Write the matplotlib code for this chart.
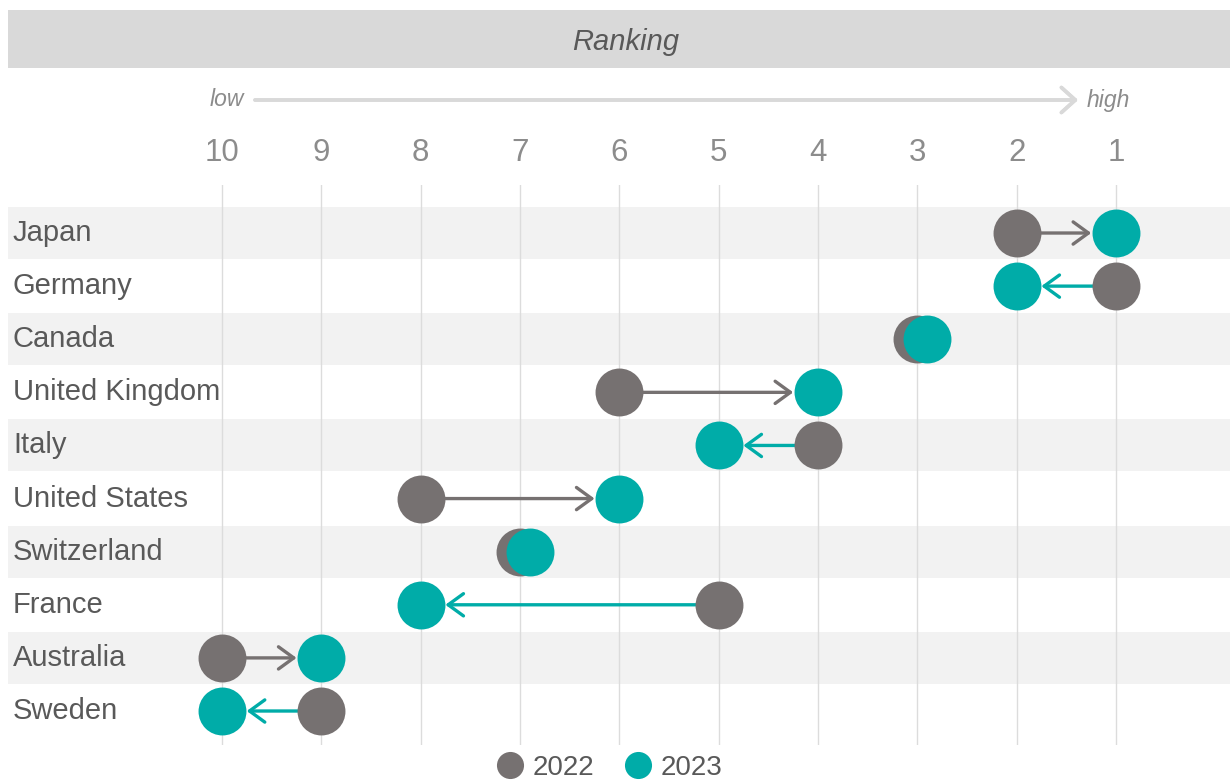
import matplotlib.pyplot as plt
from matplotlib.patches import Rectangle
from matplotlib.lines import Line2D
import matplotlib.transforms as mtrans

# data
countries = ['Japan', 'Germany', 'Canada', 'United Kingdom', 'Italy',
             'United States', 'Switzerland', 'France', 'Australia', 'Sweden']
rank_2022 = [2, 1, 3, 6, 4, 8, 7, 5, 10, 9]
rank_2023 = [1, 2, 3, 4, 5, 6, 7, 8, 9, 10]
ranks = [10, 9, 8, 7, 6, 5, 4, 3, 2, 1]

grey = '#767171'
teal = '#00aca8'
txt = '#595959'
light = '#8c8c8c'
tie_shift = 0.1   # visual offset so both dots show when rank unchanged

W, H = 1230, 781
fig = plt.figure(figsize=(W / 100, H / 100), dpi=100)
plt.rcParams['font.family'] = ['Liberation Sans', 'DejaVu Sans']

# main axes (pixel layout -> figure fraction)
ax_top, ax_bot = 185, 745
ax = fig.add_axes([8 / W, 1 - ax_bot / H, (W - 8) / W, (ax_bot - ax_top) / H])
ax.set_xlim(12.154, -0.148)
ax.set_ylim(9.64, -0.904)
for s in ax.spines.values():
    s.set_visible(False)
ax.set_yticks([])

# alternating row bands
for i in range(len(countries)):
    if i % 2 == 0:
        ax.axhspan(i - 0.49, i + 0.49, color='#f2f2f2', zorder=0, lw=0)

# vertical grid
for r in ranks:
    ax.axvline(r, color='#dcdcdc', lw=1, zorder=1)

ax.set_xticks(ranks)
ax.set_xticklabels([str(r) for r in ranks])
ax.xaxis.tick_top()
ax.tick_params(axis='x', length=0, pad=12, labelsize=22.5, labelcolor=light)

# country labels
trans = mtrans.blended_transform_factory(ax.transAxes, ax.transData)
for i, c in enumerate(countries):
    ax.text(0.004, i, c, transform=trans, ha='left', va='center',
            fontsize=21, color=txt, zorder=6)

# arrows and dots
x22, x23 = [], []
for i in range(len(countries)):
    a, b = rank_2022[i], rank_2023[i]
    if a == b:
        x22.append(a)
        x23.append(b - tie_shift)
        continue
    x22.append(a)
    x23.append(b)
    col = grey if b < a else teal
    ax.annotate('', xy=(b, i), xytext=(a, i),
                arrowprops=dict(arrowstyle='->,head_length=0.55,head_width=0.4',
                                color=col, lw=2.4, shrinkA=0, shrinkB=17.8,
                                mutation_scale=20),
                zorder=3)

ypos = list(range(len(countries)))
ax.scatter(x22, ypos, s=1190, color=grey, zorder=4, lw=0)
ax.scatter(x23, ypos, s=1190, color=teal, zorder=5, lw=0)

# header band
fig.patches.append(Rectangle((8 / W, 1 - 68 / H), (W - 8) / W, 58 / H,
                             transform=fig.transFigure, color='#d9d9d9', lw=0))
fig.text(626 / W, 1 - 42 / H, 'Ranking', ha='center', va='center',
         fontsize=21, style='italic', color=txt)

# low -> high arrow
fig.text(244 / W, 1 - 100 / H, 'low', ha='right', va='center',
         fontsize=16.5, style='italic', color=light)
fig.text(1087 / W, 1 - 100 / H, 'high', ha='left', va='center',
         fontsize=16.5, style='italic', color=light)
fig.add_artist(plt.annotate('', xy=(1078 / W, 1 - 100 / H), xytext=(255 / W, 1 - 100 / H),
                            xycoords='figure fraction', textcoords='figure fraction',
                            arrowprops=dict(arrowstyle='->,head_length=0.5,head_width=0.45',
                                            color='#d9d9d9', lw=2.6, mutation_scale=20,
                                            shrinkA=0, shrinkB=0)))

# legend
handles = [Line2D([], [], marker='o', ls='', color=grey, markersize=19.5, mew=0),
           Line2D([], [], marker='o', ls='', color=teal, markersize=19.5, mew=0)]
fig.legend(handles, ['2022', '2023'], loc='center', bbox_to_anchor=(608 / W, 1 - 768 / H),
           ncol=2, frameon=False, fontsize=20, labelcolor=txt,
           handletextpad=0.2, columnspacing=1.0, handlelength=1.2,
           borderaxespad=0, borderpad=0)

fig.savefig('out.png', dpi=100)
